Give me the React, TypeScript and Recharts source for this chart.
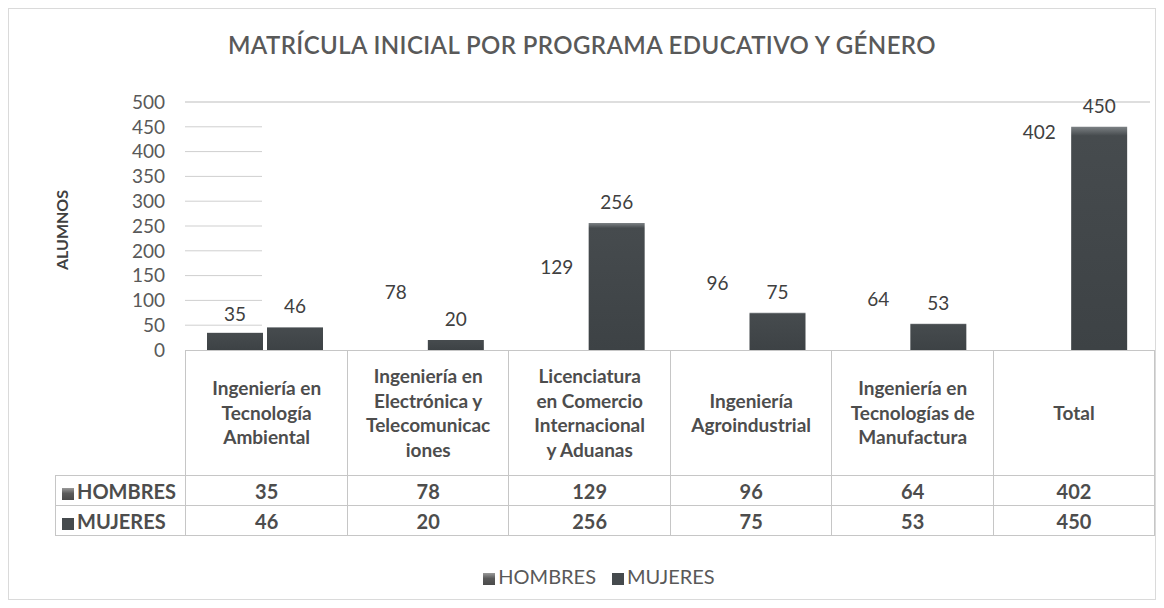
import { BarChart, Bar, XAxis, YAxis, CartesianGrid, LabelList, Cell } from 'recharts';

const programas = [
  ['Ingeniería en', 'Tecnología', 'Ambiental'],
  ['Ingeniería en', 'Electrónica y', 'Telecomunicac', 'iones'],
  ['Licenciatura', 'en Comercio', 'Internacional', 'y Aduanas'],
  ['Ingeniería', 'Agroindustrial'],
  ['Ingeniería en', 'Tecnologías de', 'Manufactura'],
  ['Total'],
];
const hombres = [35, 78, 129, 96, 64, 402];
const mujeres = [46, 20, 256, 75, 53, 450];
const yTicks = [0, 50, 100, 150, 200, 250, 300, 350, 400, 450, 500];

const data = programas.map((p, i) => ({
  programa: p.join(' '),
  HOMBRES: hombres[i],
  MUJERES: mujeres[i],
}));

const FONT = 'Lato, "Open Sans", sans-serif';
const TEXT = '#404040';
const TABLE_TEXT = '#4d4d4d';
const BORDER = '#c6c6c6';
const PLOT_TOP = 93;
const COL_W = 965 / 6;

function GridLine(props: any) {
  const { x1, x2, y1, y2 } = props;
  // only the top line crosses the whole plot, the rest stop after the first bar
  const full = Math.abs(y1 - PLOT_TOP) < 1;
  if (Math.abs(y1 - (PLOT_TOP + 248)) < 1) return <g />;
  return (
    <line x1={x1} x2={full ? x2 : x1 + 77} y1={y1} y2={y2} stroke={full ? '#bdbdbd' : '#cfcfcf'} strokeWidth={1} />
  );
}

function Swatch({ light }: { light?: boolean }) {
  return (
    <span
      style={{
        display: 'inline-block',
        width: 12,
        height: 12,
        marginRight: 3,
        background: light
          ? 'linear-gradient(#9a9a9a 0%, #5a5a5a 45%, #4a4a4a 100%)'
          : '#454a4d',
        verticalAlign: '-1px',
      }}
    />
  );
}

export default function App() {
  return (
    <div
      style={{
        position: 'relative',
        width: 1146,
        height: 590,
        border: '1px solid #dadada',
        fontFamily: FONT,
        background: '#fff',
      }}
    >
      {/* Title */}
      <div
        style={{
          position: 'absolute',
          top: 21,
          left: 0,
          width: 1146,
          textAlign: 'center',
          fontSize: 24,
          fontWeight: 600,
          letterSpacing: 0.4,
          color: '#595959',
        }}
      >
        MATRÍCULA INICIAL POR PROGRAMA EDUCATIVO Y GÉNERO
      </div>

      {/* Y axis title */}
      <div
        style={{
          position: 'absolute',
          left: 53 - 50,
          top: 221 - 10,
          width: 100,
          height: 20,
          textAlign: 'center',
          transform: 'rotate(-90deg)',
          fontSize: 16,
          fontWeight: 700,
          color: TEXT,
        }}
      >
        ALUMNOS
      </div>

      <div style={{ position: 'absolute', left: 0, top: 0 }}>
        <BarChart
          width={1146}
          height={360}
          data={data}
          margin={{ top: PLOT_TOP, right: 5, bottom: 19, left: 90 }}
          barSize={56}
          barGap={4}
        >
          <defs>
            <linearGradient id="barGrad" x1="0" y1="0" x2="0" y2="1">
              <stop offset="0%" stopColor="#7c8184" />
              <stop offset="4%" stopColor="#464b4e" />
              <stop offset="100%" stopColor="#3d4245" />
            </linearGradient>
          </defs>
          <CartesianGrid vertical={false} horizontal={GridLine as any} />
          <XAxis dataKey="programa" hide />
          <YAxis
            width={86}
            domain={[0, 500]}
            ticks={yTicks}
            interval={0}
            axisLine={false}
            tickLine={false}
            tick={{ fill: '#595959', fontSize: 19, fontFamily: FONT }}
            tickMargin={14}
          />
          <Bar dataKey="HOMBRES" isAnimationActive={false}>
            {data.map((_, i) => (
              <Cell key={i} fill={i === 0 ? 'url(#barGrad)' : '#ffffff'} />
            ))}
            <LabelList dataKey="HOMBRES" position="top" offset={12} fill={TEXT} fontSize={19} fontFamily={FONT} />
          </Bar>
          <Bar dataKey="MUJERES" fill="url(#barGrad)" isAnimationActive={false}>
            <LabelList dataKey="MUJERES" position="top" offset={14} fill={TEXT} fontSize={19} fontFamily={FONT} />
          </Bar>
        </BarChart>
      </div>

      {/* Data table */}
      <table
        style={{
          position: 'absolute',
          left: 46,
          top: 341,
          borderCollapse: 'collapse',
          tableLayout: 'fixed',
          fontFamily: FONT,
          color: TABLE_TEXT,
          fontWeight: 700,
          fontSize: 20,
        }}
      >
        <tbody>
          <tr style={{ height: 125 }}>
            <td style={{ width: 130, padding: 0 }} />
            {programas.map((p, i) => (
              <td
                key={i}
                style={{
                  width: COL_W,
                  border: `1px solid ${BORDER}`,
                  textAlign: 'center',
                  lineHeight: '24.5px',
                  padding: 0,
                  fontSize: 19,
                  whiteSpace: 'nowrap',
                }}
              >
                {p.map((l, j) => (
                  <div key={j}>{l}</div>
                ))}
              </td>
            ))}
          </tr>
          {[
            { name: 'HOMBRES', values: hombres, light: true },
            { name: 'MUJERES', values: mujeres, light: false },
          ].map((row) => (
            <tr key={row.name} style={{ height: 30 }}>
              <td style={{ border: `1px solid ${BORDER}`, padding: '0 0 0 6px', whiteSpace: 'nowrap' }}>
                <Swatch light={row.light} />
                {row.name}
              </td>
              {row.values.map((v, i) => (
                <td key={i} style={{ border: `1px solid ${BORDER}`, textAlign: 'center', padding: 0 }}>
                  {v}
                </td>
              ))}
            </tr>
          ))}
        </tbody>
      </table>

      {/* Legend */}
      <div
        style={{
          position: 'absolute',
          left: 0,
          top: 555,
          width: 1180,
          textAlign: 'center',
          fontSize: 20,
          color: '#595959',
        }}
      >
        <span style={{ marginRight: 16 }}>
          <Swatch light />
          HOMBRES
        </span>
        <span>
          <Swatch />
          MUJERES
        </span>
      </div>
    </div>
  );
}
